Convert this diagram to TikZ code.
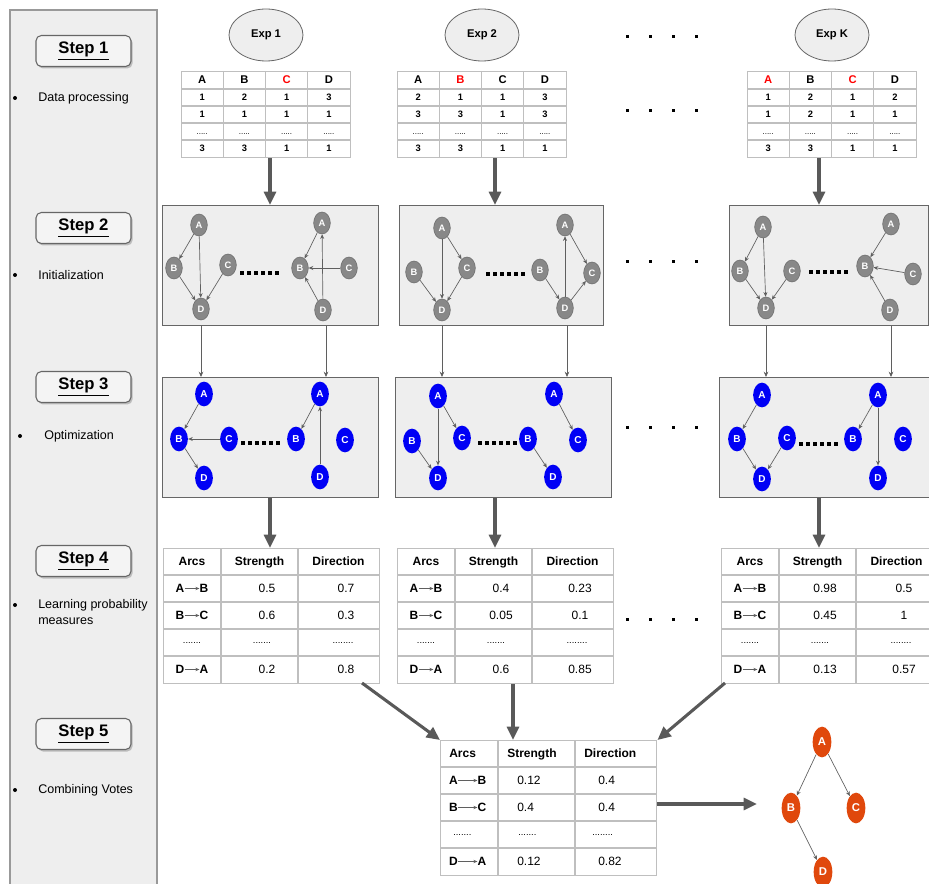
\documentclass[tikz,border=0pt]{standalone}
\usepackage{fontspec}
\setmainfont{Liberation Sans}
\usetikzlibrary{shapes.geometric,arrows.meta,shadows}
\definecolor{panel}{HTML}{EEEEEE}
\definecolor{panelline}{HTML}{999999}
\definecolor{boxline}{HTML}{666666}
\definecolor{arrowgray}{HTML}{595959}
\definecolor{edgegray}{HTML}{5F5F5F}
\definecolor{nodegray}{HTML}{888888}
\definecolor{nodegrayline}{HTML}{6A6A6A}
\definecolor{tabline}{HTML}{BFBFBF}
\definecolor{nblue}{HTML}{0000F5}
\definecolor{norange}{HTML}{E0480C}
\definecolor{hred}{HTML}{FF0000}
\definecolor{stepfill}{HTML}{F4F4F4}

\newcommand{\tdots}{{\fontsize{6}{7}\selectfont\mdseries .....}}

\newcommand{\fourNodes}[6]{%
  \node[#1] (#2A) at (#3) {A};
  \node[#1] (#2B) at (#4) {B};
  \node[#1] (#2C) at (#5) {C};
  \node[#1] (#2D) at (#6) {D};
}

\newcommand{\dataTable}[4]{%
  \node[tabbox, minimum width=126.75pt, minimum height=64.5pt] (#2) at (#1,71) {};
  \foreach \k in {1,2,3} \draw[tabl] ({#1+42.25*\k},71) -- ({#1+42.25*\k},157);
  \foreach \yy in {89,106,123,140} \draw[tabl] (#1,\yy) -- ({#1+169},\yy);
  \foreach \h [count=\i] in {#3} \node[dhead] (#2-h\i) at ({#1+42.25*(\i-0.5)},80) {\h};
  \foreach \a/\b/\c/\d [count=\r] in {#4} {
    \node[dcell] (#2-\r-1) at ({#1+21.125},{97.5+17*(\r-1)}) {\a};
    \node[dcell] (#2-\r-2) at ({#1+63.375},{97.5+17*(\r-1)}) {\b};
    \node[dcell] (#2-\r-3) at ({#1+105.625},{97.5+17*(\r-1)}) {\c};
    \node[dcell] (#2-\r-4) at ({#1+147.875},{97.5+17*(\r-1)}) {\d};
  }
}

\newcommand{\arcCell}[6]{%
  \node[phead] (#1f) at ({#2},#4) {#5};
  \node[phead] (#1t) at ({#3},#4) {#6};
  \draw[minarr] (#1f) -- (#1t);
}

\newcommand{\probTable}[8]{%
  \node[tabbox, minimum width=162pt, minimum height=101.25pt] (#2) at (#1,548) {};
  \draw[tabl] ({#1+58},548) -- ({#1+58},683) ({#1+135},548) -- ({#1+135},683);
  \foreach \yy in {575,602,629,656} \draw[tabl] (#1,\yy) -- ({#1+216},\yy);
  \node[phead] (#2h1) at ({#1+29},561.5) {Arcs};
  \node[phead] (#2h2) at ({#1+96.5},561.5) {Strength};
  \node[phead] (#2h3) at ({#1+175.5},561.5) {Direction};
  \arcCell{#2a1}{#1+17}{#1+41}{588.5}{A}{B}
  \node[pval] (#2s1) at ({#1+104},588.5) {#3};
  \node[pval] (#2d1) at ({#1+183},588.5) {#4};
  \arcCell{#2a2}{#1+17}{#1+41}{615.5}{B}{C}
  \node[pval] (#2s2) at ({#1+104},615.5) {#5};
  \node[pval] (#2d2) at ({#1+183},615.5) {#6};
  \node[pdots] (#2a3) at ({#1+29},642.5) {.......};
  \node[pdots] (#2s3) at ({#1+99},642.5) {.......};
  \node[pdots] (#2d3) at ({#1+180},642.5) {........};
  \arcCell{#2a4}{#1+17}{#1+41}{669.5}{D}{A}
  \node[pval] (#2s4) at ({#1+104},669.5) {#7};
  \node[pval] (#2d4) at ({#1+183},669.5) {#8};
}

\begin{document}
\begin{tikzpicture}[x=0.75pt,y=-0.75pt,
  stepbox/.style={draw=boxline, fill=stepfill, rounded corners=4pt, line width=0.8pt,
     minimum width=71.25pt, minimum height=23.25pt, inner sep=0pt,
     drop shadow={opacity=0.45, shadow xshift=1.2pt, shadow yshift=-1.5pt},
     font=\fontsize{12.5}{14}\selectfont\bfseries},
  bul/.style={circle, fill=black, inner sep=0pt, minimum size=3pt},
  bultext/.style={anchor=west, font=\fontsize{9.4}{11.3}\selectfont, align=left, inner sep=0pt},
  expnode/.style={ellipse, draw=boxline, fill=panel, line width=0.6pt, minimum width=55.5pt,
     minimum height=39pt, inner sep=0pt, font=\fontsize{8.4}{10}\selectfont\bfseries},
  gbox/.style={draw=boxline, fill=panel, line width=1pt, anchor=north west, inner sep=0pt, minimum height=90pt},
  tabbox/.style={draw=tabline, line width=1.1pt, anchor=north west, inner sep=0pt, fill=white},
  tabl/.style={draw=tabline, line width=1.1pt},
  dhead/.style={font=\fontsize{8.4}{10}\selectfont\bfseries, inner sep=0pt, text height=6pt, text depth=0pt},
  dcell/.style={font=\fontsize{7}{8}\selectfont\bfseries, inner sep=0pt, text height=5pt, text depth=0pt},
  phead/.style={font=\fontsize{9}{11}\selectfont\bfseries, inner sep=0pt, text height=6.5pt, text depth=0pt},
  pval/.style={font=\fontsize{9}{11}\selectfont, inner sep=0pt, text height=6.5pt, text depth=0pt},
  pdots/.style={font=\fontsize{7}{9}\selectfont, inner sep=0pt},
  gn/.style={ellipse, draw=nodegrayline, line width=0.4pt, fill=nodegray, text=white,
     minimum width=12.5pt, minimum height=16.5pt, inner sep=0pt, font=\fontsize{7}{8}\selectfont\bfseries},
  bn/.style={ellipse, fill=nblue, text=white, minimum width=13.3pt, minimum height=18.5pt,
     inner sep=0pt, font=\fontsize{7.5}{8}\selectfont\bfseries},
  onode/.style={ellipse, fill=norange, text=white, minimum width=14pt, minimum height=23pt,
     inner sep=0pt, font=\fontsize{8.5}{9}\selectfont\bfseries},
  edg/.style={draw=edgegray, line width=0.5pt, -{Stealth[length=3.5pt,width=3pt]}},
  thinarr/.style={draw=edgegray, line width=0.6pt, -{Stealth[length=4pt,width=3.5pt]}},
  minarr/.style={draw=edgegray, line width=0.6pt, -{Stealth[length=3pt,width=2.5pt]}},
  bigarr/.style={draw=arrowgray, line width=2.3pt, -{Triangle[length=10pt,width=9pt]}},
  dotrow/.style={draw=black, line width=3pt, dash pattern=on 3pt off 2.25pt},
]
\useasboundingbox (0,0) rectangle (929,884);

% ---------- left panel ----------
\draw[panelline, fill=panel, line width=0.8pt] (10,10) rectangle (157,900);
\node[stepbox] (st1) at (83.5,51) {\underline{Step 1}};
\node[stepbox] (st2) at (83.5,228) {\underline{Step 2}};
\node[stepbox] (st3) at (83.5,387) {\underline{Step 3}};
\node[stepbox] (st4) at (83.5,561) {\underline{Step 4}};
\node[stepbox] (st5) at (83.5,734) {\underline{Step 5}};
\node[bul] (b1) at (15,98) {};
\node[bultext] (bt1) at (38,98) {Data processing};
\node[bul] (b2) at (15,275) {};
\node[bultext] (bt2) at (38,275) {Initialization};
\node[bul] (b3) at (20,436) {};
\node[bultext] (bt3) at (44,436) {Optimization};
\node[bul] (b4) at (15,605) {};
\node[bultext] (bt4) at (38,612) {Learning probability\\measures};
\node[bul] (b5) at (15,790) {};
\node[bultext] (bt5) at (38,790) {Combining Votes};

% ---------- step 1 ----------
\node[expnode] (e1) at (266,35) {Exp 1};
\node[expnode] (e2) at (482,35) {Exp 2};
\node[expnode] (eK) at (832,35) {Exp K};
\dataTable{181}{t1a}{A,B,\textcolor{hred}{C},D}{1/2/1/3, 1/1/1/1, \tdots/\tdots/\tdots/\tdots, 3/3/1/1}
\dataTable{397}{t1b}{A,\textcolor{hred}{B},C,D}{2/1/1/3, 3/3/1/3, \tdots/\tdots/\tdots/\tdots, 3/3/1/1}
\dataTable{747}{t1c}{\textcolor{hred}{A},B,\textcolor{hred}{C},D}{1/2/1/2, 1/2/1/1, \tdots/\tdots/\tdots/\tdots, 3/3/1/1}
\foreach \yy in {37,111,262,428,619}
  \foreach \xx in {627,650,673,696}
    \fill[black] ({\xx-1.5},{\yy-1.5}) rectangle ++(3,3);

% ---------- step 2 ----------
\node[gbox, minimum width=162pt] (s2a) at (162,205) {};
\node[gbox, minimum width=153pt] (s2b) at (399,205) {};
\node[gbox, minimum width=149.25pt] (s2c) at (729,205) {};
\coordinate (ax1) at (270,0);
\coordinate (ax2) at (495,0);
\coordinate (ax3) at (819,0);
\draw[bigarr] (t1a.south -| ax1) -- (s2a.north -| ax1);
\draw[bigarr] (t1b.south -| ax2) -- (s2b.north -| ax2);
\draw[bigarr] (t1c.south -| ax3) -- (s2c.north -| ax3);

\fourNodes{gn}{p1}{199,225}{174,268}{228,265}{201,309}
\fourNodes{gn}{p2}{322,223}{300,268}{349,268}{323,310}
\fourNodes{gn}{p3}{442,228}{414,272}{467,268}{442,310}
\fourNodes{gn}{p4}{565,225}{540,270}{592,273}{565,308}
\fourNodes{gn}{p5}{763,227}{740,271}{792,271}{766,308}
\fourNodes{gn}{p6}{891,224}{865,266}{913,274}{890,310}
\foreach \s/\t in {A/B,A/D,B/D,C/D} \draw[edg] (p1\s) -- (p1\t);
\foreach \s/\t in {A/B,C/B,D/B,D/A} \draw[edg] (p2\s) -- (p2\t);
\foreach \s/\t in {A/D,A/C,B/D,C/D} \draw[edg] (p3\s) -- (p3\t);
\foreach \s/\t in {D/A,A/C,B/D,D/C} \draw[edg] (p4\s) -- (p4\t);
\foreach \s/\t in {A/B,A/D,B/D,C/D} \draw[edg] (p5\s) -- (p5\t);
\foreach \s/\t in {A/B,C/B,D/B} \draw[edg] (p6\s) -- (p6\t);
\draw[dotrow] (240,273) -- (280,273);
\draw[dotrow] (486,274) -- (526,274);
\draw[dotrow] (809,272) -- (849,272);

% ---------- step 3 ----------
\node[gbox, minimum width=162pt] (s3a) at (162,377) {};
\node[gbox, minimum width=162pt] (s3b) at (395,377) {};
\node[gbox, minimum width=157.5pt] (s3c) at (719,377) {};
\foreach \n/\xx in {a/201,a/326,b/442,b/567,c/766,c/891} {
  \coordinate (tx) at (\xx,0);
  \draw[thinarr] (s2\n.south -| tx) -- (s3\n.north -| tx);
}
\fourNodes{bn}{q1}{204,394}{179,439}{229,439}{204,478}
\fourNodes{bn}{q2}{320,394}{296,439}{345,440}{320,477}
\fourNodes{bn}{q3}{438,396}{412,441}{462,438}{438,478}
\fourNodes{bn}{q4}{554,394}{528,439}{578,440}{553,477}
\fourNodes{bn}{q5}{762,395}{737,439}{787,438}{762,479}
\fourNodes{bn}{q6}{878,395}{853,439}{903,439}{878,478}
\foreach \s/\t in {A/B,C/B,B/D} \draw[edg] (q1\s) -- (q1\t);
\foreach \s/\t in {A/B,D/A} \draw[edg] (q2\s) -- (q2\t);
\foreach \s/\t in {A/D,A/C,B/D} \draw[edg] (q3\s) -- (q3\t);
\foreach \s/\t in {A/C,B/D} \draw[edg] (q4\s) -- (q4\t);
\foreach \s/\t in {A/B,B/D,C/D} \draw[edg] (q5\s) -- (q5\t);
\foreach \s/\t in {A/B,A/D} \draw[edg] (q6\s) -- (q6\t);
\draw[dotrow] (241,443) -- (281,443);
\draw[dotrow] (478,443) -- (518,443);
\draw[dotrow] (799,444) -- (839,444);

% ---------- step 4 ----------
\probTable{163}{pa}{0.5}{0.7}{0.6}{0.3}{0.2}{0.8}
\probTable{397}{pb}{0.4}{0.23}{0.05}{0.1}{0.6}{0.85}
\probTable{721}{pc}{0.98}{0.5}{0.45}{1}{0.13}{0.57}
\draw[bigarr] (s3a.south -| ax1) -- (pa.north -| ax1);
\draw[bigarr] (s3b.south -| ax2) -- (pb.north -| ax2);
\draw[bigarr] (s3c.south -| ax3) -- (pc.north -| ax3);

% ---------- step 5 ----------
\node[tabbox, minimum width=162pt, minimum height=101.25pt] (ft) at (440,740) {};
\draw[tabl] (498,740) -- (498,875) (575,740) -- (575,875);
\foreach \yy in {767,794,821,848} \draw[tabl] (440,\yy) -- (656,\yy);
\node[phead, anchor=west] (fh1) at (449,753.5) {Arcs};
\node[phead, anchor=west] (fh2) at (507,753.5) {Strength};
\node[phead, anchor=west] (fh3) at (584,753.5) {Direction};
\arcCell{fa1}{453.5}{482}{780.5}{A}{B}
\node[pval, anchor=west] (fs1) at (517,780.5) {0.12};
\node[pval, anchor=west] (fd1) at (598,780.5) {0.4};
\arcCell{fa2}{453.5}{482}{807.5}{B}{C}
\node[pval, anchor=west] (fs2) at (517,807.5) {0.4};
\node[pval, anchor=west] (fd2) at (598,807.5) {0.4};
\node[pdots, anchor=west] (fa3) at (453,834.5) {.......};
\node[pdots, anchor=west] (fs3) at (518,834.5) {.......};
\node[pdots, anchor=west] (fd3) at (592,834.5) {........};
\arcCell{fa4}{453.5}{482}{861.5}{D}{A}
\node[pval, anchor=west] (fs4) at (517,861.5) {0.12};
\node[pval, anchor=west] (fd4) at (598,861.5) {0.82};

\coordinate (c1) at (362,683);
\coordinate (ax4) at (513,0);
\coordinate (c3) at (725,683);
\coordinate (fe) at (757,804);
\draw[bigarr] (c1) -- (ft.north west);
\draw[bigarr] (pb.south -| ax4) -- (ft.north -| ax4);
\draw[bigarr] (c3) -- (ft.north east);
\draw[bigarr] (ft.east |- fe) -- (fe);

\node[onode] (rA) at (822,742) {A};
\node[onode] (rB) at (791,808) {B};
\node[onode] (rC) at (856,808) {C};
\node[onode] (rD) at (823,872) {D};
\draw[edg] (rA) -- (rB);
\draw[edg] (rA) -- (rC);
\draw[edg] (rB) -- (rD);
\end{tikzpicture}
\end{document}
